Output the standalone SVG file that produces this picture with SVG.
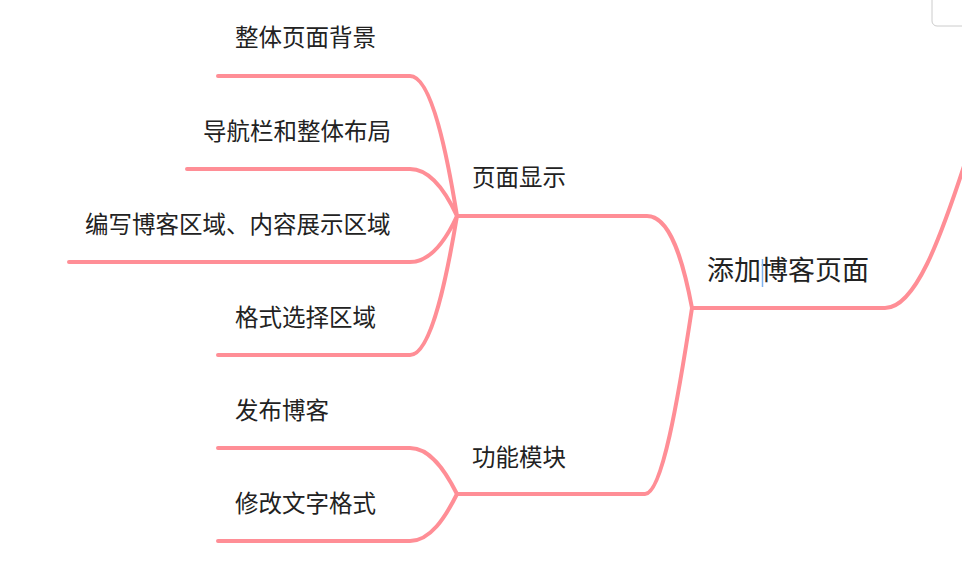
<svg xmlns="http://www.w3.org/2000/svg" width="962" height="583" viewBox="0 0 962 583">
<style>
.c{fill:none;stroke:#ff8e96;stroke-width:4;stroke-linecap:round;stroke-linejoin:round}
text{font-family:"Noto Sans CJK SC","Microsoft YaHei",sans-serif;fill:#222}
.leaf{font-size:23.5px}
.l1{font-size:23.5px}
.root{font-size:27px}
</style>
<rect x="0" y="0" width="962" height="583" fill="#ffffff"/>
<rect x="932" y="-10" width="40" height="36" rx="5" fill="none" stroke="#cccccc" stroke-width="1"/>
<g id="connectors">
<path class="c" d="M692,308 L885,308 C915,308 940,240 966,160"/>
<path class="c" d="M692,308 C683,260 670,216 647,216 L457,216"/>
<path class="c" d="M692,308 C678,400 662,494 645,494 L457,494"/>
<path class="c" d="M457,216 C448,160 432,76 410,76 L218,76"/>
<path class="c" d="M457,216 C445,190 430,169 410,169 L187,169"/>
<path class="c" d="M457,216 C445,242 430,262 410,262 L69,262"/>
<path class="c" d="M457,216 C448,270 432,355 410,355 L218,355"/>
<path class="c" d="M457,494 C445,470 430,448 410,448 L218,448"/>
<path class="c" d="M457,494 C445,518 430,541 410,541 L218,541"/>
</g>
<g id="root"><text class="root" x="707" y="280">添加博客页面</text><line x1="762.5" y1="259" x2="762.5" y2="287" stroke="#7fb2ef" stroke-width="1.5"/></g>
<g id="n-page"><text class="l1" x="472" y="186">页面显示</text></g>
<g id="n-func"><text class="l1" x="472" y="466">功能模块</text></g>
<g id="n-bg"><text class="leaf" x="235" y="46">整体页面背景</text></g>
<g id="n-nav"><text class="leaf" x="203" y="140">导航栏和整体布局</text></g>
<g id="n-edit"><text class="leaf" x="85" y="233">编写博客区域、内容展示区域</text></g>
<g id="n-fmt"><text class="leaf" x="235" y="326">格式选择区域</text></g>
<g id="n-pub"><text class="leaf" x="235" y="419">发布博客</text></g>
<g id="n-mod"><text class="leaf" x="235" y="512">修改文字格式</text></g>
</svg>
